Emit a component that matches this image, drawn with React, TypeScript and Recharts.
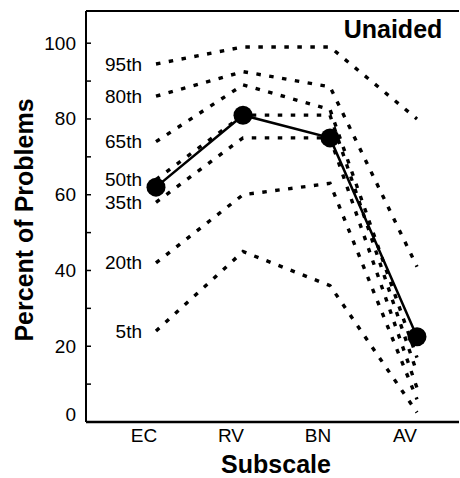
import React from 'react';
import { LineChart, Line, XAxis, YAxis, ReferenceLine, LabelList } from 'recharts';

const subscales = ['EC', 'RV', 'BN', 'AV'];

// percentile curves, one value per subscale
const p95 = [94.5, 99, 99, 80];
const p80 = [86, 92.5, 88.5, 41];
const p65 = [74, 89, 82.5, 17];
const p50 = [64, 81, 81, 13];
const p35 = [58, 75, 75, 9];
const p20 = [42, 60, 63, 6];
const p5 = [24, 45, 36, 2.5];

// the solid line with the big dots
const unaidedScores = [62, 81, 75, 22.5];

const percentileNames = ['95th', '80th', '65th', '50th', '35th', '20th', '5th'];
const percentileSeries = [p95, p80, p65, p50, p35, p20, p5];

const yTicks = [0, 10, 20, 30, 40, 50, 60, 70, 80, 90, 100];
const yTop = 108.5;

const data = subscales.map((s, i) => {
  const row: Record<string, string | number> = { subscale: s, unaided: unaidedScores[i] };
  percentileNames.forEach((name, k) => {
    row[name] = percentileSeries[k][i];
  });
  return row;
});

const FONT = '"Liberation Sans", Arial, Helvetica, sans-serif';

const YTick = (props: any) => {
  const { x, y, payload } = props;
  if (payload.value % 20 !== 0) return <g />;
  return (
    <text
      x={x}
      y={payload.value === 0 ? y - 8 : y}
      textAnchor="end"
      dominantBaseline="central"
      fontSize={19}
      fontFamily={FONT}
      fill="#000"
    >
      {payload.value}
    </text>
  );
};

const App: React.FC = () => {
  return (
    <div style={{ width: 460, height: 478, background: '#fff' }}>
      <style>{'body{margin:0}'}</style>
      <LineChart width={460} height={478} data={data} margin={{ top: 11, right: 0, bottom: 0, left: 0 }}>
        <XAxis
          dataKey="subscale"
          height={56}
          padding={{ left: 70, right: 42 }}
          axisLine={{ stroke: '#000', strokeWidth: 2.5 }}
          tickLine={false}
          tickSize={6}
          tickMargin={1}
          tick={{ fill: '#000', fontSize: 19, fontFamily: FONT, dx: -12 }}
          label={{
            content: () => (
              <text x={276} y={473} textAnchor="middle" fontSize={25} fontWeight="bold" fontFamily={FONT} fill="#000">
                Subscale
              </text>
            ),
          }}
        />
        <YAxis
          width={86}
          domain={[0, yTop]}
          ticks={yTicks}
          interval={0}
          tickSize={-5}
          tickMargin={15}
          axisLine={{ stroke: '#000', strokeWidth: 2 }}
          tickLine={{ stroke: '#000', strokeWidth: 1.5 }}
          tick={YTick}
          label={{
            content: () => (
              <text
                x={33}
                y={220}
                transform="rotate(-90 33 220)"
                textAnchor="middle"
                fontSize={25}
                fontWeight="bold"
                fontFamily={FONT}
                fill="#000"
              >
                Percent of Problems
              </text>
            ),
          }}
        />
        <YAxis
          yAxisId="r"
          orientation="right"
          width={1}
          domain={[0, yTop]}
          ticks={yTicks}
          interval={0}
          tickSize={-5}
          axisLine={false}
          tickLine={{ stroke: '#000', strokeWidth: 1.5 }}
          tick={() => <g />}
        />
        <ReferenceLine
          y={yTop}
          stroke="#000"
          strokeWidth={2}
          label={{
            content: () => (
              <text x={393} y={38} textAnchor="middle" fontSize={25} fontWeight="bold" fontFamily={FONT} fill="#000">
                Unaided
              </text>
            ),
          }}
        />
        {percentileNames.map((name) => (
          <Line
            key={name}
            dataKey={name}
            type="linear"
            stroke="#000"
            strokeWidth={3.4}
            strokeDasharray="4.5 8.5"
            dot={false}
            activeDot={false}
            isAnimationActive={false}
          >
            <LabelList
              dataKey={name}
              content={(p: any) =>
                p.index === 0 ? (
                  <text
                    x={Number(p.x) - 14}
                    y={Number(p.y)}
                    textAnchor="end"
                    dominantBaseline="central"
                    fontSize={19}
                    fontFamily={FONT}
                    fill="#000"
                  >
                    {name}
                  </text>
                ) : null
              }
            />
          </Line>
        ))}
        <Line
          dataKey="unaided"
          type="linear"
          stroke="#000"
          strokeWidth={2.5}
          dot={{ r: 9.5, fill: '#000', stroke: '#000', strokeWidth: 0 }}
          activeDot={false}
          isAnimationActive={false}
        />
      </LineChart>
    </div>
  );
};

export default App;
